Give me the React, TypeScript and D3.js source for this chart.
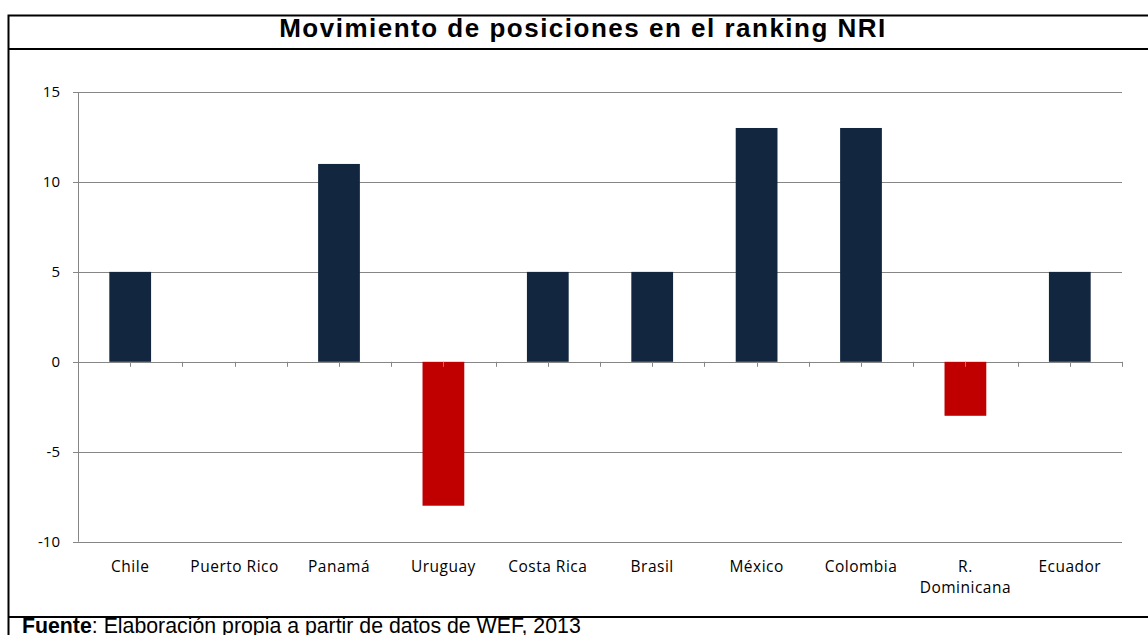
import * as d3 from "d3"

const countries = ["Chile", "Puerto Rico", "Panamá", "Uruguay", "Costa Rica", "Brasil", "México", "Colombia", "R. Dominicana", "Ecuador"]
const moves = [5, 0, 11, -8, 5, 5, 13, 13, -3, 5]
const yTicks = [-10, -5, 0, 5, 10, 15]

const title = "Movimiento de posiciones en el ranking NRI"

export default function App() {
    const width = 1148
    const height = 635
    const left = 78, right = 1122, top = 92, bottom = 541.7

    const x = d3.scaleBand<string>().domain(countries).range([left, right]).paddingInner(0.6).paddingOuter(0.3)
    const band = (right - left) / countries.length
    const y = d3.scaleLinear().domain([-10, 15]).range([bottom, top])

    // ticks at category centres and boundaries on the zero line
    const xTicks = d3.range(0, countries.length * 2 + 1).map(i => left + (i * band) / 2)

    const axisColor = "#868686"
    const lblFont = "'Open Sans', Lato, sans-serif"
    const arial = "Arial, 'Liberation Sans', sans-serif"

    return (
        <svg width={width} height={height} style={{ position: "absolute", left: 0, top: 0 }}>
            {/* frame */}
            <rect x={8.5} y={15.5} width={1150} height={700} fill="white" stroke="#000" strokeWidth={2} />
            <line x1={8} x2={width} y1={49} y2={49} stroke="#000" strokeWidth={2} />
            <line x1={8} x2={width} y1={617} y2={617} stroke="#000" strokeWidth={2} />
            <text x={583} y={37} textAnchor="middle" fontFamily={arial}
                fontWeight="bold" fontSize={26} letterSpacing={1.5}>{title}</text>

            {/* gridlines + y labels */}
            {yTicks.map(t => (
                <g key={t}>
                    <line x1={left - 5} x2={right} y1={Math.round(y(t)) + 0.5} y2={Math.round(y(t)) + 0.5}
                        stroke={axisColor} strokeWidth={1} />
                    <text x={60} y={y(t) + 5} textAnchor="end" fontFamily={lblFont} fontSize={15}>{t}</text>
                </g>
            ))}
            <line x1={left + 0.5} x2={left + 0.5} y1={top} y2={bottom} stroke={axisColor} />

            {/* bars */}
            {countries.map((c, i) => {
                const v = moves[i]
                return (
                    <rect key={c} x={x(c)} width={x.bandwidth()}
                        y={y(Math.max(0, v))} height={Math.abs(y(v) - y(0))}
                        fill={v < 0 ? "#C00000" : "#12263F"} />
                )
            })}

            {/* zero axis ticks */}
            {xTicks.map((tx, i) => (
                <line key={i} x1={Math.round(tx) + 0.5} x2={Math.round(tx) + 0.5} y1={y(0)} y2={y(0) + 5} stroke={axisColor} />
            ))}

            {/* category labels */}
            {countries.map(c => {
                const cx = (x(c) ?? 0) + x.bandwidth() / 2
                const parts = c === "R. Dominicana" ? ["R.", "Dominicana"] : [c]
                return (
                    <text key={c} x={cx} y={572} textAnchor="middle" fontFamily={lblFont} fontSize={15.5} letterSpacing={0.5}>
                        {parts.map((p, k) => <tspan key={k} x={cx} dy={k === 0 ? 0 : 21}>{p}</tspan>)}
                    </text>
                )
            })}

            {/* source */}
            <text x={22} y={633} fontFamily={arial} fontSize={21.3}>
                <tspan fontWeight="bold">Fuente</tspan>: Elaboración propia a partir de datos de WEF, 2013
            </text>
        </svg>
    )
}
